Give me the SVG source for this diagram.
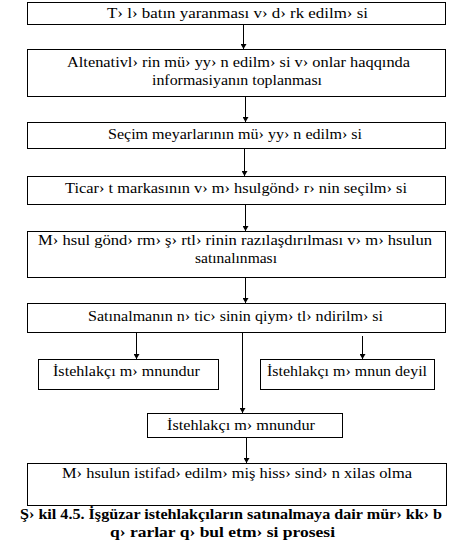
<svg xmlns="http://www.w3.org/2000/svg" width="469" height="545" viewBox="0 0 469 545">
<style>
.b{fill:#fff;stroke:#000;stroke-width:1}
text{font-family:'Liberation Serif','Times New Roman',serif;font-size:14px;fill:#000}
.cap{font-weight:bold}
.c line{stroke:#000;stroke-width:1}
</style>
<defs>
<marker id="a" markerWidth="6" markerHeight="6" refX="3" refY="5.5" markerUnits="userSpaceOnUse" viewBox="0 0 6 6">
<path d="M0,0.5 L6,0.5 L3,5.5 Z" fill="#000"/>
</marker>
</defs>
<rect width="469" height="545" fill="#fff"/>
<g class="c" id="connectors">
<line x1="243.5" y1="25" x2="243.5" y2="49" marker-end="url(#a)"/>
<line x1="245.5" y1="97" x2="245.5" y2="122" marker-end="url(#a)"/>
<line x1="244.5" y1="149" x2="244.5" y2="176" marker-end="url(#a)"/>
<line x1="245.5" y1="205" x2="245.5" y2="231" marker-end="url(#a)"/>
<line x1="245.5" y1="278" x2="245.5" y2="303" marker-end="url(#a)"/>
<line x1="136.5" y1="333" x2="136.5" y2="359" marker-end="url(#a)"/>
<line x1="362.5" y1="336" x2="362.5" y2="359" marker-end="url(#a)"/>
<line x1="242.5" y1="333" x2="242.5" y2="413" marker-end="url(#a)"/>
<line x1="246.5" y1="438" x2="246.5" y2="463" marker-end="url(#a)"/>
</g>
<g font-family="Liberation Serif, Times New Roman, serif">
<g id="n1"><rect class="b" x="27.5" y="2.5" width="418" height="22"/><text x="107" y="18" textLength="261" lengthAdjust="spacingAndGlyphs">T› l› batın yaranması v›  d› rk edilm› si</text></g>
<g id="n2"><rect class="b" x="27.5" y="49.5" width="418" height="47"/><text x="67" y="67" textLength="343" lengthAdjust="spacingAndGlyphs">Altenativl› rin mü› yy› n edilm› si v›  onlar haqqında</text><text x="152" y="85" textLength="170" lengthAdjust="spacingAndGlyphs">informasiyanın toplanması</text></g>
<g id="n3"><rect class="b" x="27.5" y="122.5" width="418" height="26"/><text x="108" y="139" textLength="254" lengthAdjust="spacingAndGlyphs">Seçim meyarlarının mü› yy› n edilm› si</text></g>
<g id="n4"><rect class="b" x="27.5" y="176.5" width="418" height="28"/><text x="65" y="193" textLength="342" lengthAdjust="spacingAndGlyphs">Ticar› t markasının v›  m› hsulgönd› r› nin seçilm› si</text></g>
<g id="n5"><rect class="b" x="27.5" y="231.5" width="418" height="46"/><text x="38" y="245" textLength="394" lengthAdjust="spacingAndGlyphs">M› hsul gönd› rm›  ş› rtl› rinin razılaşdırılması v›  m› hsulun</text><text x="195" y="263" textLength="82" lengthAdjust="spacingAndGlyphs">satınalınması</text></g>
<g id="n6"><rect class="b" x="27.5" y="303.5" width="418" height="29"/><text x="88" y="321" textLength="295" lengthAdjust="spacingAndGlyphs">Satınalmanın n› tic› sinin qiym› tl› ndirilm› si</text></g>
<g id="n7"><rect class="b" x="38.5" y="359.5" width="180" height="30"/><text x="53" y="376" textLength="147" lengthAdjust="spacingAndGlyphs">İstehlakçı m› mnundur</text></g>
<g id="n8"><rect class="b" x="260.5" y="359.5" width="174" height="30"/><text x="267" y="376" textLength="160" lengthAdjust="spacingAndGlyphs">İstehlakçı m› mnun deyil</text></g>
<g id="n9"><rect class="b" x="147.5" y="413.5" width="195" height="24"/><text x="167" y="430" textLength="148" lengthAdjust="spacingAndGlyphs">İstehlakçı m› mnundur</text></g>
<g id="n10"><rect class="b" x="27.5" y="463.5" width="419" height="42"/><text x="62" y="478" textLength="350" lengthAdjust="spacingAndGlyphs">M› hsulun istifad›  edilm› miş hiss› sind› n xilas olma</text></g>
<g id="caption"><text class="cap" x="20" y="519" textLength="422" lengthAdjust="spacingAndGlyphs">Ş› kil 4.5. İşgüzar istehlakçıların satınalmaya dair mür› kk› b</text><text class="cap" x="110" y="537" textLength="225" lengthAdjust="spacingAndGlyphs">q› rarlar q› bul etm› si prosesi</text></g>
</g>
</svg>
